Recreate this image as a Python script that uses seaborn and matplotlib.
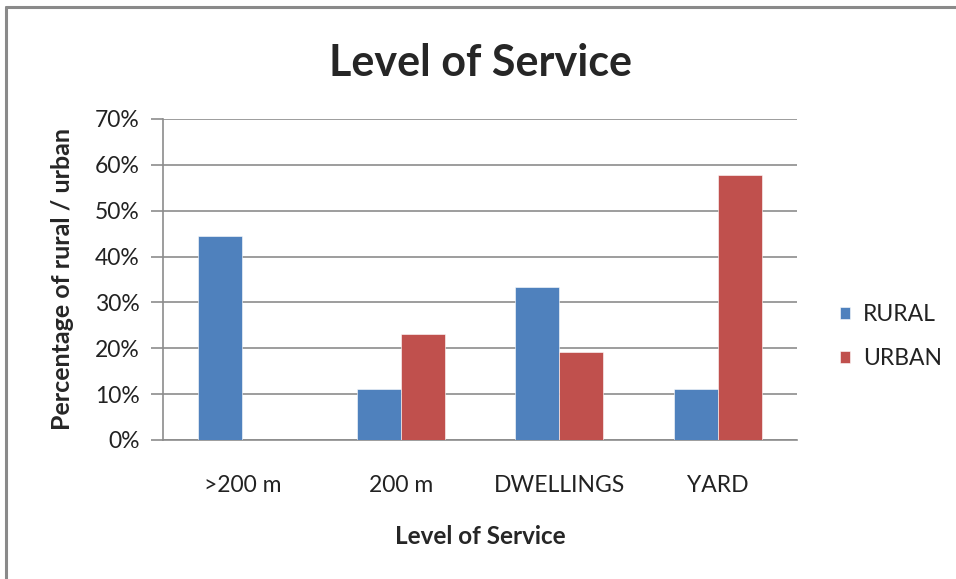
import matplotlib
matplotlib.use("Agg")
import matplotlib.pyplot as plt
from matplotlib.lines import Line2D
from matplotlib.ticker import PercentFormatter
import seaborn as sns
import pandas as pd

categories = [">200 m", "200 m", "DWELLINGS", "YARD"]
rural = [44.4, 11.1, 33.3, 11.1]
urban = [0.0, 23.1, 19.2, 57.7]
series = ["RURAL", "URBAN"]
colors = ["#4F81BD", "#C0504D"]

df = pd.DataFrame({
    "category": categories * 2,
    "value": rural + urban,
    "series": [series[0]] * len(categories) + [series[1]] * len(categories),
})

sns.set_theme(style="white")
plt.rcParams["font.family"] = ["Lato", "DejaVu Sans"]

fig = plt.figure(figsize=(9.56, 5.79), dpi=100)
ax = fig.add_axes([0.1705, 0.2401, 0.6632, 0.5544])

sns.barplot(data=df, x="category", y="value", hue="series", order=categories,
            hue_order=series, palette=colors, width=0.555, saturation=1,
            edgecolor="white", linewidth=0.4, ax=ax, zorder=3)

ax.set_ylim(0, 70)
ax.set_xlim(-0.5, len(categories) - 0.5)
ax.set_yticks(range(0, 71, 10))
ax.yaxis.set_major_formatter(PercentFormatter(decimals=0))
ax.grid(axis="y", color="#8c8c8c", linewidth=1.2, zorder=0)
ax.set_axisbelow(True)

for side in ["top", "right"]:
    ax.spines[side].set_visible(False)
ax.spines["left"].set_color("#8c8c8c")
ax.spines["left"].set_linewidth(1.2)
ax.spines["bottom"].set_color("#8c8c8c")
ax.spines["bottom"].set_linewidth(1.2)

ax.tick_params(axis="y", which="major", left=True, length=9, width=1.2,
               color="#8c8c8c", labelsize=16.5, labelcolor="#222222", pad=8)
ax.tick_params(axis="x", bottom=False, labelsize=16.5, labelcolor="#222222", pad=19)

ax.set_xlabel("Level of Service", fontsize=17.5, fontweight="bold", labelpad=21)
ax.set_ylabel("Percentage of rural / urban", fontsize=18, fontweight="bold", labelpad=15)
ax.set_title("Level of Service", fontsize=31, fontweight="bold", pad=31)

leg = ax.legend(loc="center left", bbox_to_anchor=(1.068, 0.322), frameon=False,
                fontsize=16.5, handlelength=0.45, handleheight=0.45,
                handletextpad=0.55, labelspacing=1.0, borderaxespad=0, borderpad=0)
for t in leg.get_texts():
    t.set_color("#222222")

# chart frame (top and left edges)
fig.add_artist(Line2D([6 / 956, 6 / 956], [0, 1 - 7 / 579], color="#8a8a8a",
                      linewidth=2.2, transform=fig.transFigure))
fig.add_artist(Line2D([6 / 956, 1], [1 - 7 / 579, 1 - 7 / 579], color="#8a8a8a",
                      linewidth=2.2, transform=fig.transFigure))

fig.savefig("out.png", dpi=100, facecolor="white")
